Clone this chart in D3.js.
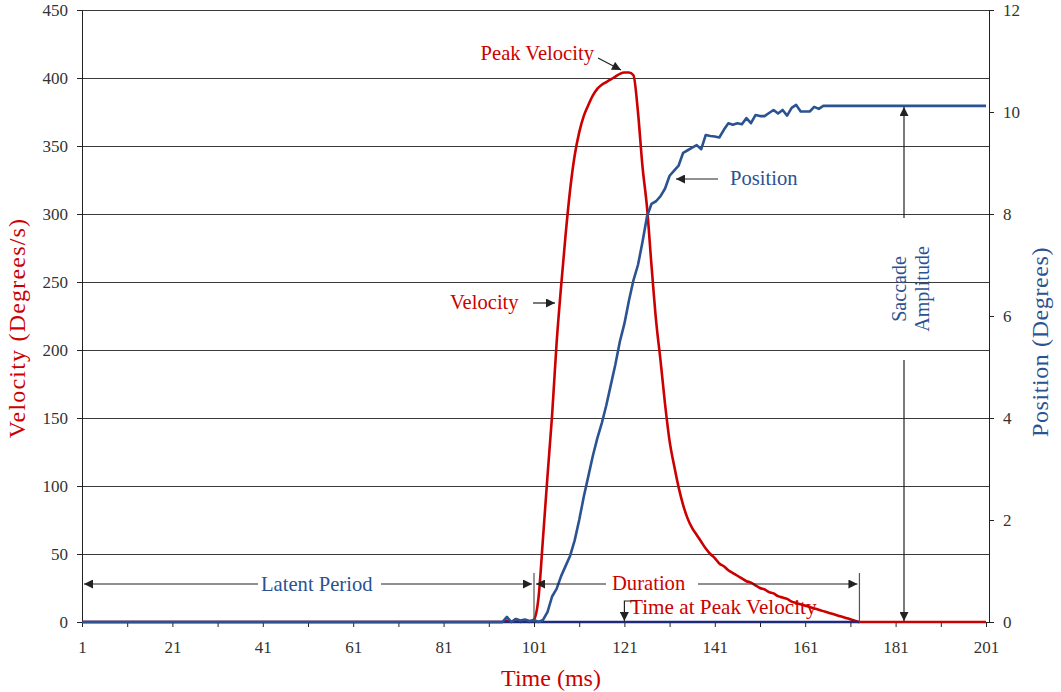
<!DOCTYPE html>
<html>
<head>
<meta charset="utf-8">
<script src="https://d3js.org/d3.v7.min.js"></script>
<style>
  body { margin: 0; background: #fff; }
  text { font-family: "Liberation Serif", serif; }
</style>
</head>
<body>
<script>
// sample times (ms) and velocity (deg/s)
const velTime = [1, 94, 95, 96, 97, 98, 99, 100, 101, 102, 103, 104, 105, 106, 107, 108, 109, 110,
  111, 112, 113, 114, 115, 116, 117, 118, 119, 120, 121, 122, 123, 124, 125, 126, 127, 128, 129, 130,
  131, 132, 133, 134, 135, 136, 137, 138, 139, 140, 141, 142, 143, 144, 145, 146, 147, 148, 149, 150,
  151, 152, 153, 154, 155, 156, 157, 158, 159, 160, 161, 162, 163, 164, 165, 166, 167, 168, 169, 170,
  171, 172, 173, 201];
const velocity = [0, 0, 1, 0, 2, 0, 1, 0, 2, 18, 62, 108, 152, 205, 247, 285, 318, 343,
  360, 372, 380, 387, 392, 395, 397, 399, 401, 403, 404, 404, 402, 375, 335, 305, 262, 222, 192, 160,
  133, 115, 99, 86, 76, 69, 64, 59, 54, 50, 47, 43, 41, 38, 36, 34, 32, 30, 29, 27,
  25, 24, 22, 21, 19, 18, 17, 15, 14, 13, 12, 11, 10, 9, 8, 7, 6, 5, 4, 3,
  2, 1, 0, 0];

// sample times (ms) and eye position (deg)
const posTime = [1, 94, 95, 96, 97, 98, 99, 100, 101, 102, 103, 104, 105, 106, 107, 108, 109, 110,
  111, 112, 113, 114, 115, 116, 117, 118, 119, 120, 121, 122, 123, 124, 125, 126, 127, 128, 129, 130,
  131, 132, 133, 134, 135, 136, 137, 138, 139, 140, 141, 142, 143, 144, 145, 146, 147, 148, 149, 150,
  151, 152, 153, 154, 155, 156, 157, 158, 159, 160, 161, 162, 163, 164, 165, 201];
const position = [0, 0, 0.1, 0, 0.06, 0.03, 0.05, 0.02, 0.04, 0, 0.04, 0.2, 0.5, 0.65, 0.9, 1.1, 1.3, 1.6,
  2.0, 2.45, 2.85, 3.25, 3.6, 3.9, 4.25, 4.65, 5.05, 5.5, 5.85, 6.3, 6.7, 7.0, 7.45, 7.95, 8.2, 8.25, 8.35, 8.5,
  8.75, 8.85, 8.95, 9.2, 9.25, 9.3, 9.35, 9.27, 9.55, 9.53, 9.52, 9.5, 9.65, 9.78, 9.75, 9.78, 9.76, 9.88, 9.78, 9.94,
  9.92, 9.92, 9.98, 10.04, 9.97, 10.04, 9.93, 10.08, 10.14, 10.01, 10.01, 10.01, 10.1, 10.06, 10.12, 10.12];

const xTicks = [1, 11, 21, 31, 41, 51, 61, 71, 81, 91, 101, 111, 121, 131, 141, 151, 161, 171, 181, 191, 201];
const xLabels = [1, 21, 41, 61, 81, 101, 121, 141, 161, 181, 201];
const velTicks = [0, 50, 100, 150, 200, 250, 300, 350, 400, 450];
const posTicks = [0, 2, 4, 6, 8, 10, 12];

const RED = "#cc0000", BLUE = "#2b5291", NAVY = "#1f2a78", INK = "#222";

const svg = d3.select("body").append("svg")
  .attr("width", 1061).attr("height", 692);

const plotL = 82, plotR = 989, plotT = 10, plotB = 622;
const x = d3.scaleLinear().domain([1, 201]).range([82, 986]);
const yv = d3.scaleLinear().domain([0, 450]).range([plotB, plotT]);
const yp = d3.scaleLinear().domain([0, 12]).range([plotB, plotT]);

// arrowhead
svg.append("defs").append("marker")
  .attr("id", "head").attr("viewBox", "0 0 10 10")
  .attr("refX", 10).attr("refY", 5)
  .attr("markerWidth", 11).attr("markerHeight", 9)
  .attr("markerUnits", "userSpaceOnUse")
  .attr("orient", "auto")
  .append("path").attr("d", "M0,0 L10,5 L0,10 Z").attr("fill", INK);

// gridlines
svg.append("g").selectAll("line").data(velTicks.filter(d => d > 0)).join("line")
  .attr("x1", plotL).attr("x2", plotR)
  .attr("y1", d => yv(d)).attr("y2", d => yv(d))
  .attr("stroke", "#3a3a3a").attr("stroke-width", 1).attr("shape-rendering", "crispEdges");

// left axis
const gl = svg.append("g").attr("transform", `translate(${plotL},0)`)
  .call(d3.axisLeft(yv).tickValues(velTicks).tickSize(5).tickPadding(9));
// right axis
const gr = svg.append("g").attr("transform", `translate(${plotR},0)`)
  .call(d3.axisRight(yp).tickValues(posTicks).tickSize(5).tickPadding(9));
// bottom axis
const gb = svg.append("g").attr("transform", `translate(0,${plotB})`)
  .call(d3.axisBottom(x).tickValues(xTicks).tickSize(5).tickPadding(14)
    .tickFormat(d => xLabels.includes(d) ? d : ""));
gb.select(".domain").attr("d", `M${plotL},0.5H${plotR}`);

[gl, gr, gb].forEach(g => {
  g.select(".domain").attr("stroke", INK);
  g.selectAll(".tick line").attr("stroke", INK);
  g.selectAll(".tick text").attr("fill", "#333").style("font-size", "17px")
    .style("font-family", "Liberation Serif, serif");
});

// series
const velLine = d3.line().x((d, i) => x(velTime[i])).y(d => yv(d)).curve(d3.curveMonotoneX);
svg.append("path").datum(velocity).attr("d", velLine)
  .attr("fill", "none").attr("stroke", RED).attr("stroke-width", 2.6).attr("stroke-linejoin", "round");

// baseline of the position trace before the saccade finishes
svg.append("line")
  .attr("x1", x(1)).attr("x2", x(173)).attr("y1", yv(0)).attr("y2", yv(0))
  .attr("stroke", NAVY).attr("stroke-width", 2.4);

const posLine = d3.line().x((d, i) => x(posTime[i])).y(d => yp(d));
svg.append("path").datum(position).attr("d", posLine)
  .attr("fill", "none").attr("stroke", BLUE).attr("stroke-width", 2.6).attr("stroke-linejoin", "round");

// helpers
function arrow(x1, y1, x2, y2) {
  svg.append("line").attr("x1", x1).attr("y1", y1).attr("x2", x2).attr("y2", y2)
    .attr("stroke", INK).attr("stroke-width", 1.2).attr("marker-end", "url(#head)");
}
function rule(x1, y1, x2, y2) {
  svg.append("line").attr("x1", x1).attr("y1", y1).attr("x2", x2).attr("y2", y2)
    .attr("stroke", "#555").attr("stroke-width", 1.2);
}
function label(txt, px, py, color, anchor, size) {
  return svg.append("text").attr("x", px).attr("y", py).attr("fill", color)
    .attr("text-anchor", anchor || "start").style("font-size", (size || 20.6) + "px").text(txt);
}

// Peak velocity
label("Peak Velocity", 594, 60, RED, "end");
arrow(598, 58, 621, 70);

// Position
label("Position", 730, 185, BLUE);
arrow(718, 179, 676, 179);

// Velocity
label("Velocity", 450, 309, RED);
arrow(533, 303, 555, 303);

// Saccade amplitude
const sx = 904;
svg.append("text").attr("transform", `translate(${sx + 2},289) rotate(-90)`)
  .attr("text-anchor", "middle").attr("fill", BLUE).style("font-size", "20px").text("Saccade");
svg.append("text").attr("transform", `translate(${sx + 25},289) rotate(-90)`)
  .attr("text-anchor", "middle").attr("fill", BLUE).style("font-size", "20px").text("Amplitude");
arrow(sx, 218, sx, yp(10.12) + 1);
arrow(sx, 360, sx, yv(0) - 1);

// Latent period
label("Latent Period", 261, 591, BLUE);
arrow(258, 584, x(1) + 2, 584);
arrow(381, 584, x(101) - 2, 584);
rule(x(101), 573, x(101), yv(0));

// Duration
label("Duration", 612, 590, RED);
arrow(606, 584, x(101) + 2, 584);
arrow(698, 584, x(173) - 2, 584);
rule(x(173), 573, x(173), yv(0));

// Time at peak velocity
label("Time at Peak Velocity", 630, 614, RED, "start", 21.2);
svg.append("path").attr("d", `M${x(121) + 12},601 H${x(121)} V${yv(0) - 1}`)
  .attr("fill", "none").attr("stroke", INK).attr("stroke-width", 1.2).attr("marker-end", "url(#head)");

// axis titles
svg.append("text").attr("transform", "translate(25,328) rotate(-90)")
  .attr("text-anchor", "middle").attr("fill", RED).style("font-size", "24px")
  .style("letter-spacing", "1.2px").text("Velocity (Degrees/s)");
svg.append("text").attr("transform", "translate(1048,342) rotate(-90)")
  .attr("text-anchor", "middle").attr("fill", BLUE).style("font-size", "24px")
  .style("letter-spacing", "0.6px").text("Position (Degrees)");
label("Time (ms)", 551, 686, RED, "middle", 24);
</script>
</body>
</html>
